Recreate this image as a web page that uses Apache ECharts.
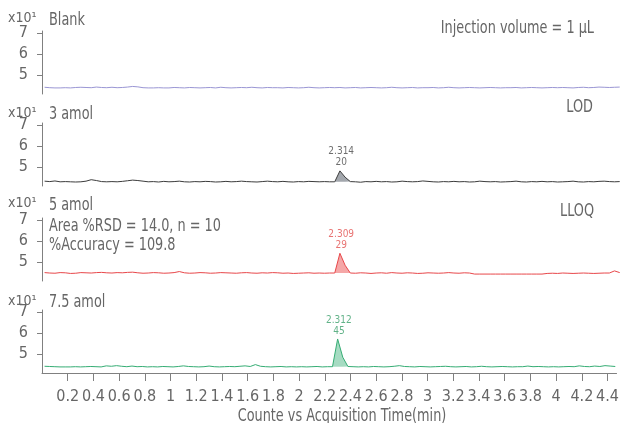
<!DOCTYPE html>
<html>
<head>
<meta charset="utf-8">
<script src="https://cdn.jsdelivr.net/npm/echarts@6/dist/echarts.min.js"></script>
<style>html,body{margin:0;padding:0;background:#fff}#c{width:622px;height:423px}</style>
</head>
<body>
<div id="c"></div>
<script>
// Acquisition time points (min)
var times = [
0.02,0.06,0.10,0.14,0.18,0.22,0.26,0.30,0.34,0.38,
0.42,0.46,0.50,0.54,0.58,0.62,0.66,0.70,0.74,0.78,
0.82,0.86,0.90,0.94,0.98,1.02,1.06,1.10,1.14,1.18,
1.22,1.26,1.30,1.34,1.38,1.42,1.46,1.50,1.54,1.58,
1.62,1.66,1.70,1.74,1.78,1.82,1.86,1.90,1.94,1.98,
2.02,2.06,2.10,2.14,2.18,2.22,2.26,2.30,2.34,2.38,
2.42,2.46,2.50,2.54,2.58,2.62,2.66,2.70,2.74,2.78,
2.82,2.86,2.90,2.94,2.98,3.02,3.06,3.10,3.14,3.18,
3.22,3.26,3.30,3.34,3.38,3.42,3.46,3.50,3.54,3.58,
3.62,3.66,3.70,3.74,3.78,3.82,3.86,3.90,3.94,3.98,
4.02,4.06,4.10,4.14,4.18,4.22,4.26,4.30,4.34,4.38,
4.42,4.46
];
// Counts (x10^1)
var blank = [
4.42,4.40,4.39,4.39,4.40,4.39,4.41,4.42,4.41,4.40,
4.43,4.41,4.40,4.42,4.40,4.41,4.43,4.46,4.44,4.40,
4.39,4.39,4.40,4.39,4.39,4.41,4.40,4.39,4.41,4.40,
4.39,4.40,4.41,4.39,4.42,4.40,4.39,4.40,4.41,4.40,
4.42,4.40,4.39,4.41,4.40,4.40,4.39,4.41,4.40,4.39,
4.40,4.42,4.40,4.39,4.40,4.41,4.40,4.41,4.39,4.40,
4.41,4.39,4.40,4.41,4.40,4.39,4.40,4.42,4.40,4.39,
4.40,4.41,4.39,4.40,4.40,4.41,4.39,4.40,4.42,4.40,
4.39,4.40,4.41,4.40,4.39,4.40,4.41,4.40,4.39,4.40,
4.40,4.41,4.39,4.40,4.41,4.40,4.39,4.40,4.41,4.40,
4.41,4.40,4.39,4.41,4.42,4.40,4.41,4.43,4.42,4.41,
4.42,4.43
];
var amol3 = [
4.33,4.31,4.34,4.30,4.31,4.30,4.29,4.30,4.33,4.40,
4.36,4.31,4.30,4.31,4.30,4.32,4.35,4.38,4.36,4.33,
4.30,4.31,4.29,4.32,4.30,4.31,4.33,4.30,4.29,4.31,
4.30,4.32,4.31,4.29,4.30,4.32,4.30,4.31,4.33,4.31,
4.30,4.29,4.31,4.33,4.31,4.30,4.32,4.30,4.29,4.31,
4.30,4.32,4.31,4.30,4.31,4.30,4.30,4.82,4.52,4.31,
4.30,4.28,4.31,4.30,4.32,4.30,4.31,4.29,4.30,4.33,
4.31,4.30,4.31,4.34,4.32,4.30,4.29,4.31,4.30,4.32,
4.30,4.31,4.29,4.30,4.33,4.31,4.30,4.31,4.29,4.30,
4.31,4.33,4.30,4.29,4.31,4.30,4.32,4.30,4.31,4.29,
4.30,4.31,4.33,4.30,4.29,4.31,4.30,4.32,4.33,4.31,
4.30,4.31
];
var amol5 = [
4.50,4.48,4.47,4.50,4.49,4.46,4.47,4.50,4.49,4.48,
4.50,4.51,4.49,4.48,4.50,4.49,4.51,4.52,4.49,4.47,
4.48,4.50,4.49,4.47,4.48,4.50,4.55,4.49,4.47,4.48,
4.50,4.49,4.47,4.48,4.50,4.49,4.48,4.47,4.49,4.50,
4.48,4.47,4.49,4.48,4.50,4.49,4.47,4.48,4.46,4.47,
4.48,4.49,4.47,4.48,4.47,4.48,4.48,5.42,4.85,4.48,
4.47,4.49,4.48,4.46,4.48,4.49,4.47,4.50,4.48,4.47,
4.49,4.48,4.46,4.47,4.49,4.48,4.47,4.48,4.50,4.48,
4.47,4.49,4.48,4.43,4.43,4.43,4.43,4.43,4.43,4.43,
4.43,4.43,4.43,4.43,4.43,4.43,4.43,4.46,4.47,4.46,
4.48,4.47,4.46,4.47,4.48,4.47,4.46,4.47,4.48,4.48,
4.58,4.50
];
var amol75 = [
4.42,4.41,4.40,4.39,4.39,4.39,4.40,4.39,4.40,4.41,
4.40,4.39,4.44,4.42,4.45,4.42,4.40,4.43,4.40,4.41,
4.39,4.40,4.39,4.41,4.40,4.39,4.41,4.44,4.41,4.40,
4.39,4.40,4.43,4.40,4.39,4.40,4.41,4.40,4.42,4.44,
4.41,4.50,4.42,4.40,4.39,4.40,4.41,4.39,4.40,4.39,
4.40,4.39,4.40,4.41,4.39,4.40,4.40,5.72,4.85,4.41,
4.40,4.39,4.40,4.39,4.41,4.40,4.39,4.40,4.42,4.45,
4.41,4.40,4.39,4.41,4.40,4.39,4.40,4.41,4.42,4.40,
4.39,4.40,4.41,4.39,4.40,4.42,4.40,4.39,4.40,4.41,
4.40,4.39,4.40,4.40,4.43,4.40,4.41,4.40,4.39,4.40,
4.39,4.40,4.41,4.40,4.44,4.41,4.40,4.43,4.41,4.45,
4.43,4.41
];
var panelNames = ['Blank', '3 amol', '5 amol', '7.5 amol'];
var peakRT = [null, '2.314', '2.309', '2.312'];
var peakSN = [null, '20', '29', '45'];
var peakApexTime = 2.31;
var peakStart = 2.25, peakEnd = 2.39;
var xTicks = [0.2,0.4,0.6,0.8,1,1.2,1.4,1.6,1.8,2,2.2,2.4,2.6,2.8,3,3.2,3.4,3.6,3.8,4,4.2,4.4];
var yTicks = [5, 6, 7];

var FONT = "'Liberation Sans Narrow','DejaVu Sans Condensed','Roboto Condensed',sans-serif";
var TXT = '#666666';
var AX = '#808080';
var seriesData = [blank, amol3, amol5, amol75];
var lineColors = ['#9a96d4', '#3c3c3c', '#e8474a', '#35ad74'];
var fillColors = [null, '#a3a7ad', '#f5a7a7', '#a6dbc2'];
var labelColors = [null, '#4a4a4a', '#e2504f', '#3a9f6a'];
var tops = [31, 123, 218, 310];
var H = 63;

var grids = [], xAxes = [], yAxes = [], series = [];
for (var p = 0; p < 4; p++) {
  grids.push({left: 42, width: 579, top: tops[p], height: H});
  var last = p === 3;
  xAxes.push({
    type: 'value', gridIndex: p, min: 0, max: 4.47,
    show: true,
    axisLine: {show: last, onZero: false, lineStyle: {color: AX, width: 1}},
    axisTick: {show: last, length: 8, customValues: xTicks, lineStyle: {color: AX}},
    axisLabel: {show: last, customValues: xTicks, margin: 16, color: TXT, fontSize: 16, fontFamily: FONT,
      formatter: function (v) { return String(Math.round(v * 10) / 10); }},
    splitLine: {show: false}
  });
  yAxes.push({
    type: 'value', gridIndex: p, min: 4.1, max: 7.1,
    axisLine: {show: true, lineStyle: {color: AX, width: 1}},
    axisTick: {show: true, length: 5, customValues: yTicks, lineStyle: {color: AX}},
    axisLabel: {show: true, customValues: yTicks, margin: 14, color: TXT, fontSize: 16, fontFamily: FONT},
    splitLine: {show: false}
  });
  var vals = seriesData[p];
  var pts = [];
  for (var i = 0; i < times.length; i++) pts.push([times[i], vals[i]]);
  series.push({
    type: 'line', xAxisIndex: p, yAxisIndex: p, data: pts, symbol: 'none',
    lineStyle: {color: lineColors[p], width: 1}, z: 3
  });
  if (fillColors[p]) {
    var pk = [], apex = -Infinity, base = null;
    for (var j = 0; j < times.length; j++) {
      if (times[j] >= peakStart && times[j] <= peakEnd) {
        pk.push([times[j], vals[j]]);
        if (base === null) base = vals[j];
        if (vals[j] > apex) apex = vals[j];
      }
    }
    series.push({
      type: 'line', xAxisIndex: p, yAxisIndex: p, data: pk, symbol: 'none',
      lineStyle: {width: 0}, areaStyle: {color: fillColors[p], opacity: 1, origin: base}, z: 2
    });
    series.push({
      type: 'scatter', xAxisIndex: p, yAxisIndex: p, symbolSize: 1,
      itemStyle: {color: 'rgba(0,0,0,0)'}, silent: true, z: 5,
      data: [[peakApexTime, apex]],
      label: {show: true, position: 'top', distance: 2, color: labelColors[p], fontSize: 10,
        fontFamily: FONT, lineHeight: 11, align: 'center',
        formatter: (function (a, b) { return function () { return a + '\n' + b; }; })(peakRT[p], peakSN[p])}
    });
  }
}

function txt(x, y, s, size, align, sx) {
  return {type: 'text', x: x, y: y, scaleX: sx || 0.84, silent: true,
    style: {text: s, fill: TXT, font: size + 'px ' + FONT, textAlign: align || 'left', textVerticalAlign: 'middle'}};
}
var labelY = [20.5, 115, 205.5, 303];
var gfx = [];
for (var k = 0; k < 4; k++) {
  gfx.push(txt(8, labelY[k] - 2, 'x10\u00b9', 14, 'left', 1));
  gfx.push(txt(49, labelY[k], panelNames[k], 17));
}
gfx.push(txt(594, 28.5, 'Injection volume = 1 \u03bcL', 17, 'right'));
gfx.push(txt(593, 108, 'LOD', 17, 'right'));
gfx.push(txt(594, 212, 'LLOQ', 17, 'right'));
gfx.push(txt(49, 226.5, 'Area %RSD = 14.0, n = 10', 17));
gfx.push(txt(49, 246, '%Accuracy = 109.8', 17));
gfx.push(txt(342, 416.5, 'Counte vs Acquisition Time(min)', 17, 'center'));

var chart = echarts.init(document.getElementById('c'), null, {renderer: 'canvas'});
chart.setOption({
  animation: false,
  backgroundColor: '#ffffff',
  grid: grids, xAxis: xAxes, yAxis: yAxes, series: series,
  graphic: gfx
});
</script>
</body>
</html>
